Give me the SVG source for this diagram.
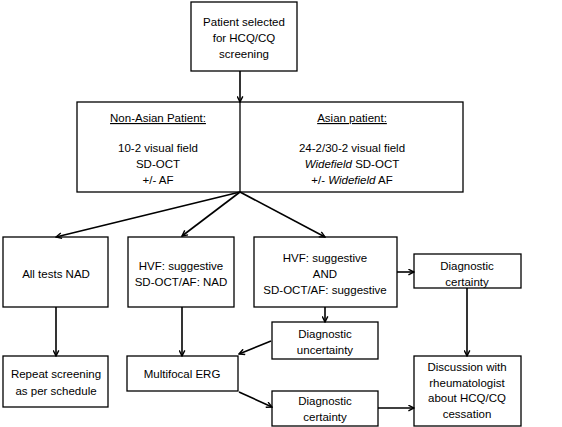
<svg xmlns="http://www.w3.org/2000/svg" width="562" height="427" viewBox="0 0 562 427">
<defs>
<style>
rect{fill:#fff;stroke:#000;stroke-width:1.3}
text{font-family:"Liberation Sans",Arial,sans-serif;font-size:11.5px;fill:#000;text-anchor:middle}
.c line,.c path{stroke:#000;stroke-width:1.6;fill:none}
</style>
<marker id="ah" viewBox="0 0 10 10" refX="9" refY="5" markerWidth="7" markerHeight="7" markerUnits="userSpaceOnUse" orient="auto">
<path d="M1,1 L9,5 L1,9" fill="none" stroke="#000" stroke-width="2"/>
</marker>
</defs>
<rect x="0" y="0" width="562" height="427" style="fill:#fff;stroke:none"/>
<g id="n-start"><rect x="191" y="2" width="106" height="69"/>
<text x="244" y="26">Patient selected</text><text x="244" y="42">for HCQ/CQ</text><text x="244" y="58">screening</text></g>
<g id="n-tests"><rect x="77" y="102" width="386" height="90"/>
<text x="158" y="122" text-decoration="underline">Non-Asian Patient:</text>
<text x="158" y="152">10-2 visual field</text><text x="158" y="168">SD-OCT</text><text x="158" y="184">+/- AF</text>
<text x="352" y="122" text-decoration="underline">Asian patient:</text>
<text x="352" y="152">24-2/30-2 visual field</text>
<text x="352" y="168"><tspan font-style="italic">Widefield</tspan> SD-OCT</text>
<text x="352" y="184">+/- <tspan font-style="italic">Widefield</tspan> AF</text></g>
<g id="n-nad"><rect x="3" y="237" width="105" height="70"/><text x="56" y="278">All tests NAD</text></g>
<g id="n-hvf"><rect x="128" y="237" width="106" height="70"/><text x="181" y="270">HVF: suggestive</text><text x="181" y="286">SD-OCT/AF: NAD</text></g>
<g id="n-both"><rect x="254" y="237" width="143" height="70"/><text x="325" y="262">HVF: suggestive</text><text x="325" y="278">AND</text><text x="325" y="294">SD-OCT/AF: suggestive</text></g>
<g id="n-cert1"><rect x="414" y="254" width="107" height="34"/><text x="467" y="270">Diagnostic</text><text x="467" y="286">certainty</text></g>
<g id="n-uncert"><rect x="272" y="322" width="106" height="37"/><text x="325" y="338">Diagnostic</text><text x="325" y="354">uncertainty</text></g>
<g id="n-repeat"><rect x="3" y="356" width="105" height="51"/><text x="56" y="378">Repeat screening</text><text x="56" y="395">as per schedule</text></g>
<g id="n-erg"><rect x="127" y="356" width="111" height="35"/><text x="182" y="378">Multifocal ERG</text></g>
<g id="n-cert2"><rect x="272" y="391" width="106" height="35"/><text x="325" y="405">Diagnostic</text><text x="325" y="421">certainty</text></g>
<g id="n-disc"><rect x="414" y="356" width="107" height="70"/><text x="467" y="371">Discussion with</text><text x="467" y="387">rheumatologist</text><text x="467" y="402">about HCQ/CQ</text><text x="467" y="418">cessation</text></g>
<g id="connectors" class="c">
<line x1="240" y1="71" x2="240" y2="102" marker-end="url(#ah)"/>
<line x1="240" y1="102" x2="240" y2="192" style="stroke-width:1.3"/>
<line x1="240" y1="192" x2="56" y2="237" marker-end="url(#ah)"/>
<line x1="240" y1="192" x2="182" y2="236" marker-end="url(#ah)"/>
<line x1="240" y1="192" x2="325" y2="237" marker-end="url(#ah)"/>
<line x1="397" y1="272" x2="414" y2="272" marker-end="url(#ah)"/>
<line x1="325" y1="307" x2="325" y2="322" marker-end="url(#ah)"/>
<line x1="56" y1="307" x2="56" y2="356" marker-end="url(#ah)"/>
<line x1="182" y1="307" x2="182" y2="356" marker-end="url(#ah)"/>
<line x1="271" y1="341" x2="239" y2="354" marker-end="url(#ah)"/>
<line x1="239" y1="392" x2="272" y2="407" marker-end="url(#ah)"/>
<line x1="467" y1="288" x2="467" y2="356" marker-end="url(#ah)"/>
<line x1="378" y1="408" x2="414" y2="408" marker-end="url(#ah)"/>
</g>
</svg>
